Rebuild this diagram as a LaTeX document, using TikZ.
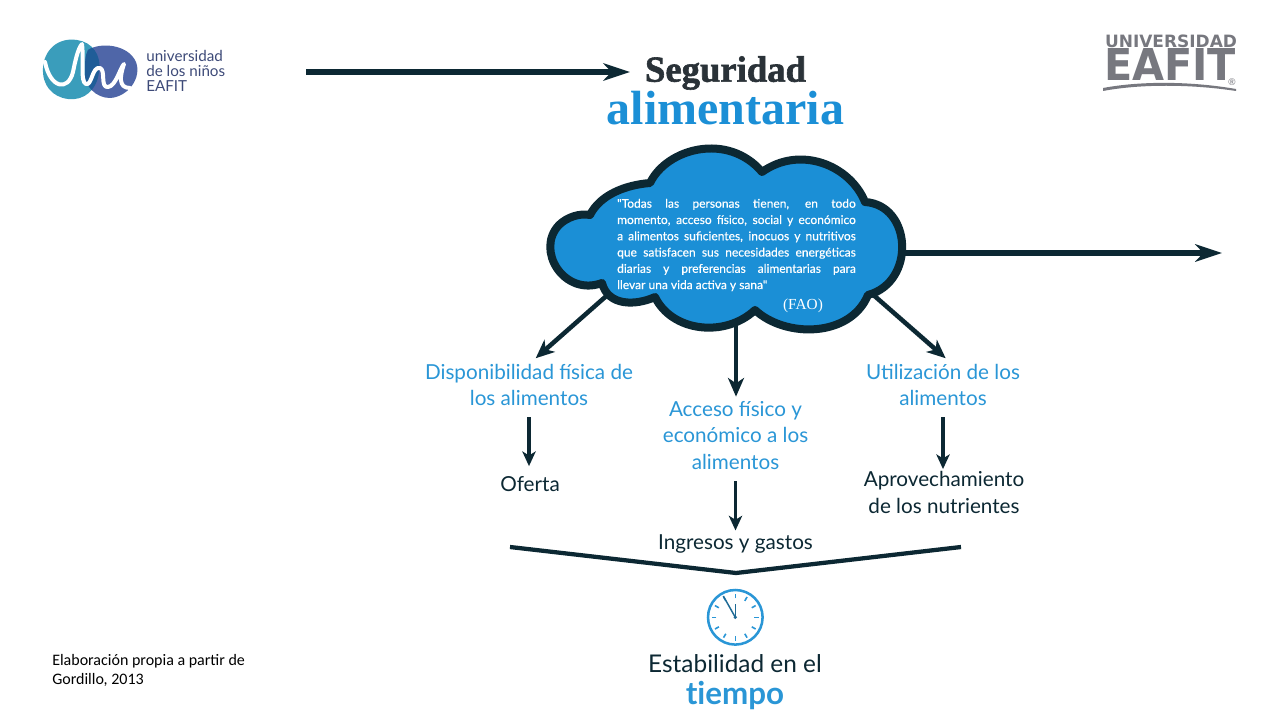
\documentclass[tikz,border=0pt]{standalone}
\usepackage{fontspec}
\usepackage{graphicx}
\usetikzlibrary{arrows.meta,backgrounds}
\setmainfont{Lato}
\newfontfamily\cloudf[FakeBold=0.4]{Lato}
\newfontfamily\serifT{Liberation Serif}
\newfontfamily\serifB[FakeBold=1.6]{Liberation Serif Bold}
\newfontfamily\foot{Carlito}
\newfontfamily\heavy{DejaVu Sans Bold}
\definecolor{dark}{HTML}{0C2833}
\definecolor{blue}{HTML}{2A96D6}
\definecolor{cloudblue}{HTML}{1B8FD6}
\definecolor{logogray}{HTML}{77787F}
\definecolor{teal}{HTML}{3A9DBB}
\definecolor{violet}{HTML}{4F66A8}
\definecolor{over}{HTML}{1F5D98}
\definecolor{logotext}{HTML}{3D4A78}
\definecolor{segcolor}{HTML}{2A3238}
\tikzset{
  conn/.style={draw=dark,line width=3.4pt,-{Stealth[length=14pt,width=12pt,inset=4pt]}},
  mainconn/.style={draw=dark,line width=4pt,-{Stealth[length=20pt,width=13pt,inset=6pt]}},
  smallconn/.style={draw=dark,line width=2.8pt,-{Stealth[length=11pt,width=10pt,inset=3pt]}},
  lab/.style={font=\fontsize{15.5}{20.2}\selectfont,align=center,inner sep=0pt},
  bluelab/.style={lab,text=blue},
  darklab/.style={lab,text=dark},
  cloudline/.style={draw=dark,fill=cloudblue,line width=6pt,line join=round},
}
\newcommand{\cl}[1]{\makebox[179pt][s]{#1}\\}
\begin{document}
\begin{tikzpicture}[x=0.75pt,y=-0.75pt]
\useasboundingbox (0,0) rectangle (1280,720);
% left logo
\fill[teal] (43,68) .. controls (44,50) and (58,37) .. (77,40) .. controls (92,42) and (102,55) .. (99,72) .. controls (97,90) and (84,101) .. (68,99) .. controls (52,97) and (42,85) .. (43,68) -- cycle;
\fill[violet] (88,50) .. controls (100,42) and (128,44) .. (136,62) .. controls (142,78) and (128,97) .. (110,98) .. controls (96,98) and (84,86) .. (85,72) .. controls (85,62) and (85,56) .. (88,50) -- cycle;
\begin{scope}
\clip (43,68) .. controls (44,50) and (58,37) .. (77,40) .. controls (92,42) and (102,55) .. (99,72) .. controls (97,90) and (84,101) .. (68,99) .. controls (52,97) and (42,85) .. (43,68) -- cycle;
\fill[over] (88,50) .. controls (100,42) and (128,44) .. (136,62) .. controls (142,78) and (128,97) .. (110,98) .. controls (96,98) and (84,86) .. (85,72) .. controls (85,62) and (85,56) .. (88,50) -- cycle;
\end{scope}
\draw[white,line width=3pt,line cap=round,line join=round] (45,62) .. controls (50,88) and (68,92) .. (73,72) .. controls (75,62) and (78,48) .. (82,44) .. controls (84,60) and (80,82) .. (86,84) .. controls (92,86) and (92,66) .. (100,68) .. controls (106,70) and (100,88) .. (108,87) .. controls (116,86) and (120,68) .. (124,64) .. controls (120,76) and (118,88) .. (130,88);
\node[anchor=west,inner sep=0pt,text=logotext,align=left,font=\fontsize{11.4}{11}\selectfont] (logotxt) at (146,71) {universidad\\de los niños\\EAFIT};
% right logo
\node[anchor=center,inner sep=0pt,text=logogray] (uni) at (1171,41) {\resizebox{99pt}{!}{\heavy UNIVERSIDAD}};
\node[anchor=center,inner sep=0pt,text=logogray] (eafit) at (1170,65) {\resizebox{99pt}{24pt}{\heavy EAFIT}};
\node[anchor=center,inner sep=0pt,text=logogray,font=\fontsize{7}{7}\selectfont] (reg) at (1232,82) {®};
\fill[logogray] (1103,88) .. controls (1140,81) and (1190,81) .. (1236,89) -- (1236,91) .. controls (1190,84) and (1140,84) .. (1103,91) -- cycle;
% title
\node[anchor=center,inner sep=0pt,text=segcolor,font=\serifB\fontsize{27.5}{30}\selectfont] (seg) at (725.5,73) {Seguridad};
\node[anchor=center,inner sep=0pt,text=cloudblue,font=\serifT\bfseries\fontsize{36}{40}\selectfont] (alim) at (725.5,108) {alimentaria};
% cloud
\path[cloudline] (602,283)
  .. controls (564,297) and (535,250) .. (559,225)
  .. controls (567,217) and (580,213) .. (590,215)
  .. controls (600,195) and (625,185) .. (650,183)
  .. controls (667,148) and (728,132) .. (762,172)
  .. controls (800,145) and (850,165) .. (865,202)
  .. controls (912,205) and (916,282) .. (868,295)
  .. controls (850,338) and (785,338) .. (755,310)
  .. controls (725,338) and (672,332) .. (655,297)
  .. controls (635,306) and (608,306) .. (602,283) -- cycle;
\node[anchor=center,inner sep=0pt,text=white,align=left,font=\cloudf\fontsize{9}{12.2}\selectfont] (cloud) at (736.5,245) {\cl{"Todas las personas tienen, en todo}\cl{momento, acceso físico, social y económico}\cl{a alimentos suficientes, inocuos y nutritivos}\cl{que satisfacen sus necesidades energéticas}\cl{diarias y preferencias alimentarias para}llevar una vida activa y sana"};
\node[anchor=center,inner sep=0pt,text=white,font=\serifT\fontsize{11.5}{12}\selectfont] (fao) at (803,306) {(FAO)};
% labels
\node[bluelab] (disp) at (529,385) {Disponibilidad física de\\los alimentos};
\node[bluelab] (acc) at (735.5,435.5) {Acceso físico y\\económico a los\\alimentos};
\node[bluelab] (util) at (943,385) {Utilizació\kern0pt n de los\\alimentos};
\node[darklab] (ofer) at (530,484) {Oferta};
\node[darklab] (apro) at (944,492.5) {Aprovechamiento\\de los nutrientes};
\node[darklab] (ingr) at (735.5,544) {Ingresos y gastos};
% clock
\draw[blue,line width=1.9pt] (735.3,617.3) circle (27.3);
\foreach \a in {0,30,...,330}{\draw[blue,line width=1.2pt] (735.3,617.3) ++(\a:19) -- ++(\a:4.5);}
\draw[dark!40!blue,line width=1.1pt] (735.3,617.3) -- (735.3,604);
\draw[dark!40!blue,line width=1.1pt] (735.3,617.3) -- (723.3,596);
\fill[dark!40!blue] (735.3,617.3) circle (1.8);
\node[darklab,font=\fontsize{18.3}{20}\selectfont] (estab) at (735,664) {Estabilidad en el};
\node[bluelab,font=\bfseries\fontsize{23.5}{25}\selectfont] (tiem) at (735,695) {t\kern0pt iempo};
% footnote
\node[anchor=north west,inner sep=0pt,align=left,font=\foot\fontsize{12}{14.4}\selectfont] (src) at (52,654) {Elaboración propia a partir de\\Gordillo, 2013};
% connectors
\coordinate (lstart) at (306,72);
\coordinate (rend) at (1222,253);
\coordinate (cR) at (880,253);
\coordinate (cL) at (612,291);
\coordinate (cS) at (736,315);
\coordinate (cE) at (870,292);
\coordinate (bl) at (510,547);
\coordinate (bm) at (736,573);
\coordinate (br) at (961,547);
\begin{scope}[on background layer]
\draw[mainconn] (lstart) -- ([xshift=-11pt]seg.west |- lstart);
\draw[mainconn] (cR) -- (rend);
\draw[conn] (cL) -- ([xshift=5pt,yshift=4pt]disp.north);
\draw[conn] (cS) -- ([yshift=3pt]cS |- acc.north);
\draw[conn] (cE) -- ([xshift=2pt,yshift=4pt]util.north);
\draw[smallconn] ([yshift=-8pt]disp.south) -- ([yshift=7.5pt]disp.south |- ofer.north);
\draw[smallconn] ([yshift=-8pt]util.south) -- ([yshift=1.5pt]util.south |- apro.north);
\draw[smallconn] ([yshift=-8pt]acc.south) -- ([yshift=3pt]acc.south |- ingr.north);
\draw[draw=dark,line width=3.2pt,line join=miter] (bl) -- (bm) -- (br);
\end{scope}
\end{tikzpicture}
\end{document}
